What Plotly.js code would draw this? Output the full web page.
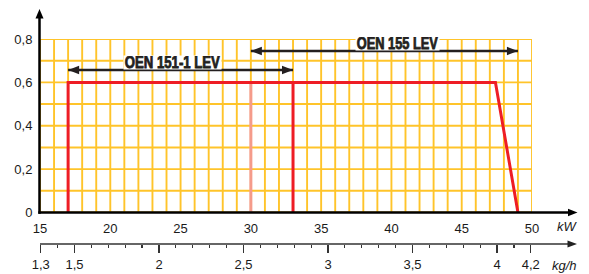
<!DOCTYPE html>
<html>
<head>
<meta charset="utf-8">
<script src="https://cdn.plot.ly/plotly-3.0.1.min.js"></script>
<style>html,body{margin:0;padding:0;background:#fff;}</style>
</head>
<body>
<div id="chart" style="width:589px;height:274px;"></div>
<script>
// ---- data ----
const kwTicks = [15, 20, 25, 30, 35, 40, 45, 50];
const yTickVals = [0, 0.2, 0.4, 0.6, 0.8];
const yTickText = ['0', '0,2', '0,4', '0,6', '0,8'];
const kghTickVals = [1.3, 1.5, 2, 2.5, 3, 3.5, 4, 4.2];
const kghTickText = ['1,3', '1,5', '2', '2,5', '3', '3,5', '4', '4,2'];

const oen151X = [17, 17, 33, 33];
const oen151Y = [0, 0.6, 0.6, 0];
const oen155X = [30, 30, 47.4, 49];
const oen155Y = [0, 0.6, 0.6, 0];

const rangeNames = ['OEN 151-1 LEV', 'OEN 155 LEV'];
const rangeStart = [17, 30];
const rangeEnd = [33, 49];
const rangeArrowY = [0.657, 0.745];
const rangeLabelX = [24.45, 40.4];
const rangeLabelY = [0.69, 0.781];

// ---- layout geometry ----
const W = 589, H = 274;
const M = {l: 40, r: 57, t: 39, b: 30};
const plotBottomPx = 212.5;
const pw = W - M.l - M.r, ph = H - M.t - M.b;
const px = v => (v - M.l) / pw;
const py = v => (H - M.b - v) / ph;

const GRID = '#FFC42A';
const RED = '#EE1D25';
const PINK = '#F59B8A';
const TXT = '#1a1a1a';
const FONT = 'Liberation Sans, Arial, sans-serif';
const LABEL_WIDTHS = [95, 81];

const xMin = kwTicks[0], xMax = kwTicks[kwTicks.length - 1];
const yMin = yTickVals[0], yMax = yTickVals[yTickVals.length - 1];

const shapes = [];
// grid: every 1 kW and every 0.1 on y
for (let v = xMin; v <= xMax; v++) {
  shapes.push({type: 'line', layer: 'below', xref: 'x', yref: 'y', x0: v, x1: v, y0: yMin, y1: yMax, line: {color: GRID, width: 1.9}});
}
const yStep = (yTickVals[1] - yTickVals[0]) / 2;
const yCount = Math.round((yMax - yMin) / yStep);
for (let k = 0; k <= yCount; k++) {
  const v = yMin + k * yStep;
  shapes.push({type: 'line', layer: 'below', xref: 'x', yref: 'y', x0: xMin, x1: xMax, y0: v, y1: v, line: {color: GRID, width: 1.9}});
}

const traces = [
  {x: oen155X.slice(0, 2), y: oen155Y.slice(0, 2), mode: 'lines', line: {color: PINK, width: 3}, hoverinfo: 'skip'},
  {x: oen151X, y: oen151Y, mode: 'lines', line: {color: RED, width: 3}, hoverinfo: 'skip'},
  {x: oen155X.slice(1), y: oen155Y.slice(1), mode: 'lines', line: {color: RED, width: 3}, hoverinfo: 'skip'},
  {x: [kghTickVals[0], kghTickVals[kghTickVals.length - 1]], y: [null, null], xaxis: 'x2', yaxis: 'y', mode: 'markers', hoverinfo: 'skip', marker: {opacity: 0}}
];

// axis lines with arrows (decoration)
shapes.push({type: 'line', xref: 'paper', yref: 'paper', x0: px(39.5), x1: px(39.5), y0: py(213.8), y1: py(16), line: {color: '#000', width: 2.5}});
shapes.push({type: 'path', xref: 'paper', yref: 'paper', path: `M${px(39.5)},${py(9)} L${px(35.5)},${py(18.5)} L${px(43.5)},${py(18.5)} Z`, fillcolor: '#000', line: {width: 0}});
shapes.push({type: 'line', xref: 'paper', yref: 'paper', x0: px(38.3), x1: px(570), y0: py(plotBottomPx), y1: py(plotBottomPx), line: {color: '#000', width: 2.7}});
shapes.push({type: 'path', xref: 'paper', yref: 'paper', path: `M${px(577.5)},${py(plotBottomPx)} L${px(568)},${py(plotBottomPx - 3.7)} L${px(568)},${py(plotBottomPx + 3.7)} Z`, fillcolor: '#000', line: {width: 0}});
shapes.push({type: 'line', xref: 'paper', yref: 'paper', x0: px(40), x1: px(570), y0: py(244), y1: py(244), line: {color: '#333', width: 1.5}});
shapes.push({type: 'path', xref: 'paper', yref: 'paper', path: `M${px(577)},${py(244)} L${px(567.5)},${py(240.5)} L${px(567.5)},${py(247.5)} Z`, fillcolor: '#222', line: {width: 0}});

// range arrows
const annotations = [];
rangeNames.forEach((name, i) => {
  shapes.push({type: 'line', xref: 'x', yref: 'y', x0: rangeStart[i], x1: rangeEnd[i], y0: rangeArrowY[i], y1: rangeArrowY[i], line: {color: '#231f20', width: 2.5}});
  shapes.push({type: 'path', xref: 'x', yref: 'y', xsizemode: 'pixel', ysizemode: 'pixel', xanchor: rangeStart[i], yanchor: rangeArrowY[i], path: 'M0,0 L11,4.2 L11,-4.2 Z', fillcolor: '#231f20', line: {width: 0}});
  shapes.push({type: 'path', xref: 'x', yref: 'y', xsizemode: 'pixel', ysizemode: 'pixel', xanchor: rangeEnd[i], yanchor: rangeArrowY[i], path: 'M0,0 L-11,4.2 L-11,-4.2 Z', fillcolor: '#231f20', line: {width: 0}});
  annotations.push({x: rangeLabelX[i], y: rangeLabelY[i], xref: 'x', yref: 'y', text: '<b>' + name + '</b>', showarrow: false,
    font: {family: FONT, size: 16, color: '#231f20'}, bgcolor: '#fff', borderpad: 0, height: 13, width: LABEL_WIDTHS[i] + 2,
    xanchor: 'center', yanchor: 'middle', align: 'center'});
});

annotations.push({x: px(567), y: py(226.7), xref: 'paper', yref: 'paper', text: '<i>kW</i>', showarrow: false, font: {family: FONT, size: 13, color: TXT}, xanchor: 'center', yanchor: 'middle'});
annotations.push({x: px(564.5), y: py(265), xref: 'paper', yref: 'paper', text: '<i>kg/h</i>', showarrow: false, font: {family: FONT, size: 13, color: TXT}, xanchor: 'center', yanchor: 'middle'});

const layout = {
  width: W, height: H,
  margin: {l: M.l, r: M.r, t: M.t, b: M.b, pad: 0},
  paper_bgcolor: '#fff', plot_bgcolor: '#fff',
  showlegend: false, hovermode: false,
  separators: ',.',
  font: {family: FONT, size: 13, color: TXT},
  xaxis: {
    range: [xMin, xMax], domain: [0, 1],
    tickmode: 'array', tickvals: kwTicks, ticktext: kwTicks.map(String),
    ticks: 'outside', ticklen: 4, tickcolor: 'rgba(0,0,0,0)',
    showgrid: false, showline: false, zeroline: false, fixedrange: true,
    tickfont: {family: FONT, size: 13, color: TXT}
  },
  xaxis2: {
    range: [1.2959, 4.2071], domain: [0, 1], overlaying: 'x', anchor: 'free', position: 0, side: 'bottom',
    tickmode: 'array', tickvals: kghTickVals, ticktext: kghTickText,
    ticks: 'outside', ticklen: 8, tickwidth: 1.3, tickcolor: '#333',
    minor: {tickmode: 'linear', tick0: 1.3, dtick: 0.1, ticks: 'outside', ticklen: 3, tickwidth: 1.2, tickcolor: '#333', showgrid: false},
    showgrid: false, showline: false, zeroline: false, fixedrange: true,
    tickfont: {family: FONT, size: 13, color: TXT}
  },
  yaxis: {
    range: [yMin, yMax], domain: [py(plotBottomPx), 1],
    tickmode: 'array', tickvals: yTickVals, ticktext: yTickText,
    ticks: 'outside', ticklen: 4, tickcolor: 'rgba(0,0,0,0)',
    showgrid: false, showline: false, zeroline: false, fixedrange: true,
    tickfont: {family: FONT, size: 13, color: TXT}
  },
  shapes: shapes,
  annotations: annotations
};

Plotly.newPlot('chart', traces, layout, {staticPlot: true, displayModeBar: false}).then(gd => {
  // condense the bold range labels to the width they have in the original
  const texts = gd.querySelectorAll('g.annotation text.annotation-text');
  rangeNames.forEach((name, i) => {
    const t = texts[i];
    if (t) {
      t.setAttribute('textLength', LABEL_WIDTHS[i]);
      t.setAttribute('lengthAdjust', 'spacingAndGlyphs');
      t.style.stroke = '#231f20';
      t.style.strokeWidth = '0.8px';
    }
  });
});
</script>
</body>
</html>
